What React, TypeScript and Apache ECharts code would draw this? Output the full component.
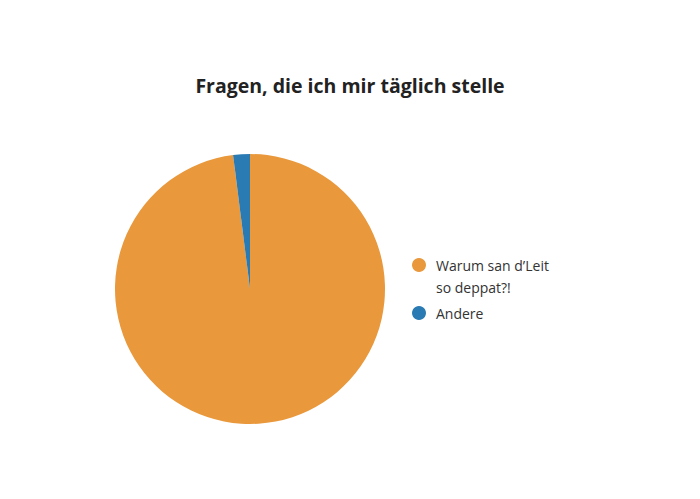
import React, { useEffect, useRef } from 'react'
import * as echarts from 'echarts'

const titleText = 'Fragen, die ich mir täglich stelle'
const categories = ['Warum san d’Leit\nso deppat?!', 'Andere']
const values = [98, 2]
const colors = ['#E9983B', '#2A7AB3']

const App: React.FC = () => {
  const chartRef = useRef<HTMLDivElement>(null)

  useEffect(() => {
    document.body.style.margin = '0'
    if (!chartRef.current) return
    const chart = echarts.init(chartRef.current, undefined, { renderer: 'svg' })

    const font = '"Open Sans", "Noto Sans", sans-serif'

    const option = {
      animation: false,
      backgroundColor: '#fff',
      title: {
        text: titleText,
        left: 'center',
        top: 70,
        textStyle: {
          fontFamily: font,
          fontSize: 19.5,
          fontWeight: 'bold',
          color: '#222'
        }
      },
      legend: {
        orient: 'vertical',
        left: 407,
        top: 227,
        icon: 'circle',
        itemWidth: 24,
        itemHeight: 14,
        itemGap: 4,
        selectedMode: false,
        // leading blank line keeps the icon level with the first text line
        formatter: (name: string) => (name.includes('\n') ? '\n' + name : name),
        textStyle: {
          fontFamily: font,
          fontSize: 14,
          color: '#333',
          lineHeight: 22
        },
        data: categories
      },
      series: [
        {
          type: 'pie',
          center: [250, 289],
          radius: [0, 135],
          startAngle: 90,
          clockwise: true,
          label: { show: false },
          labelLine: { show: false },
          emphasis: { disabled: true },
          data: categories.map((name, i) => ({
            name,
            value: values[i],
            itemStyle: { color: colors[i] }
          }))
        }
      ]
    }

    chart.setOption(option)
    return () => chart.dispose()
  }, [])

  return <div ref={chartRef} style={{ width: 700, height: 499 }} />
}

export default App
